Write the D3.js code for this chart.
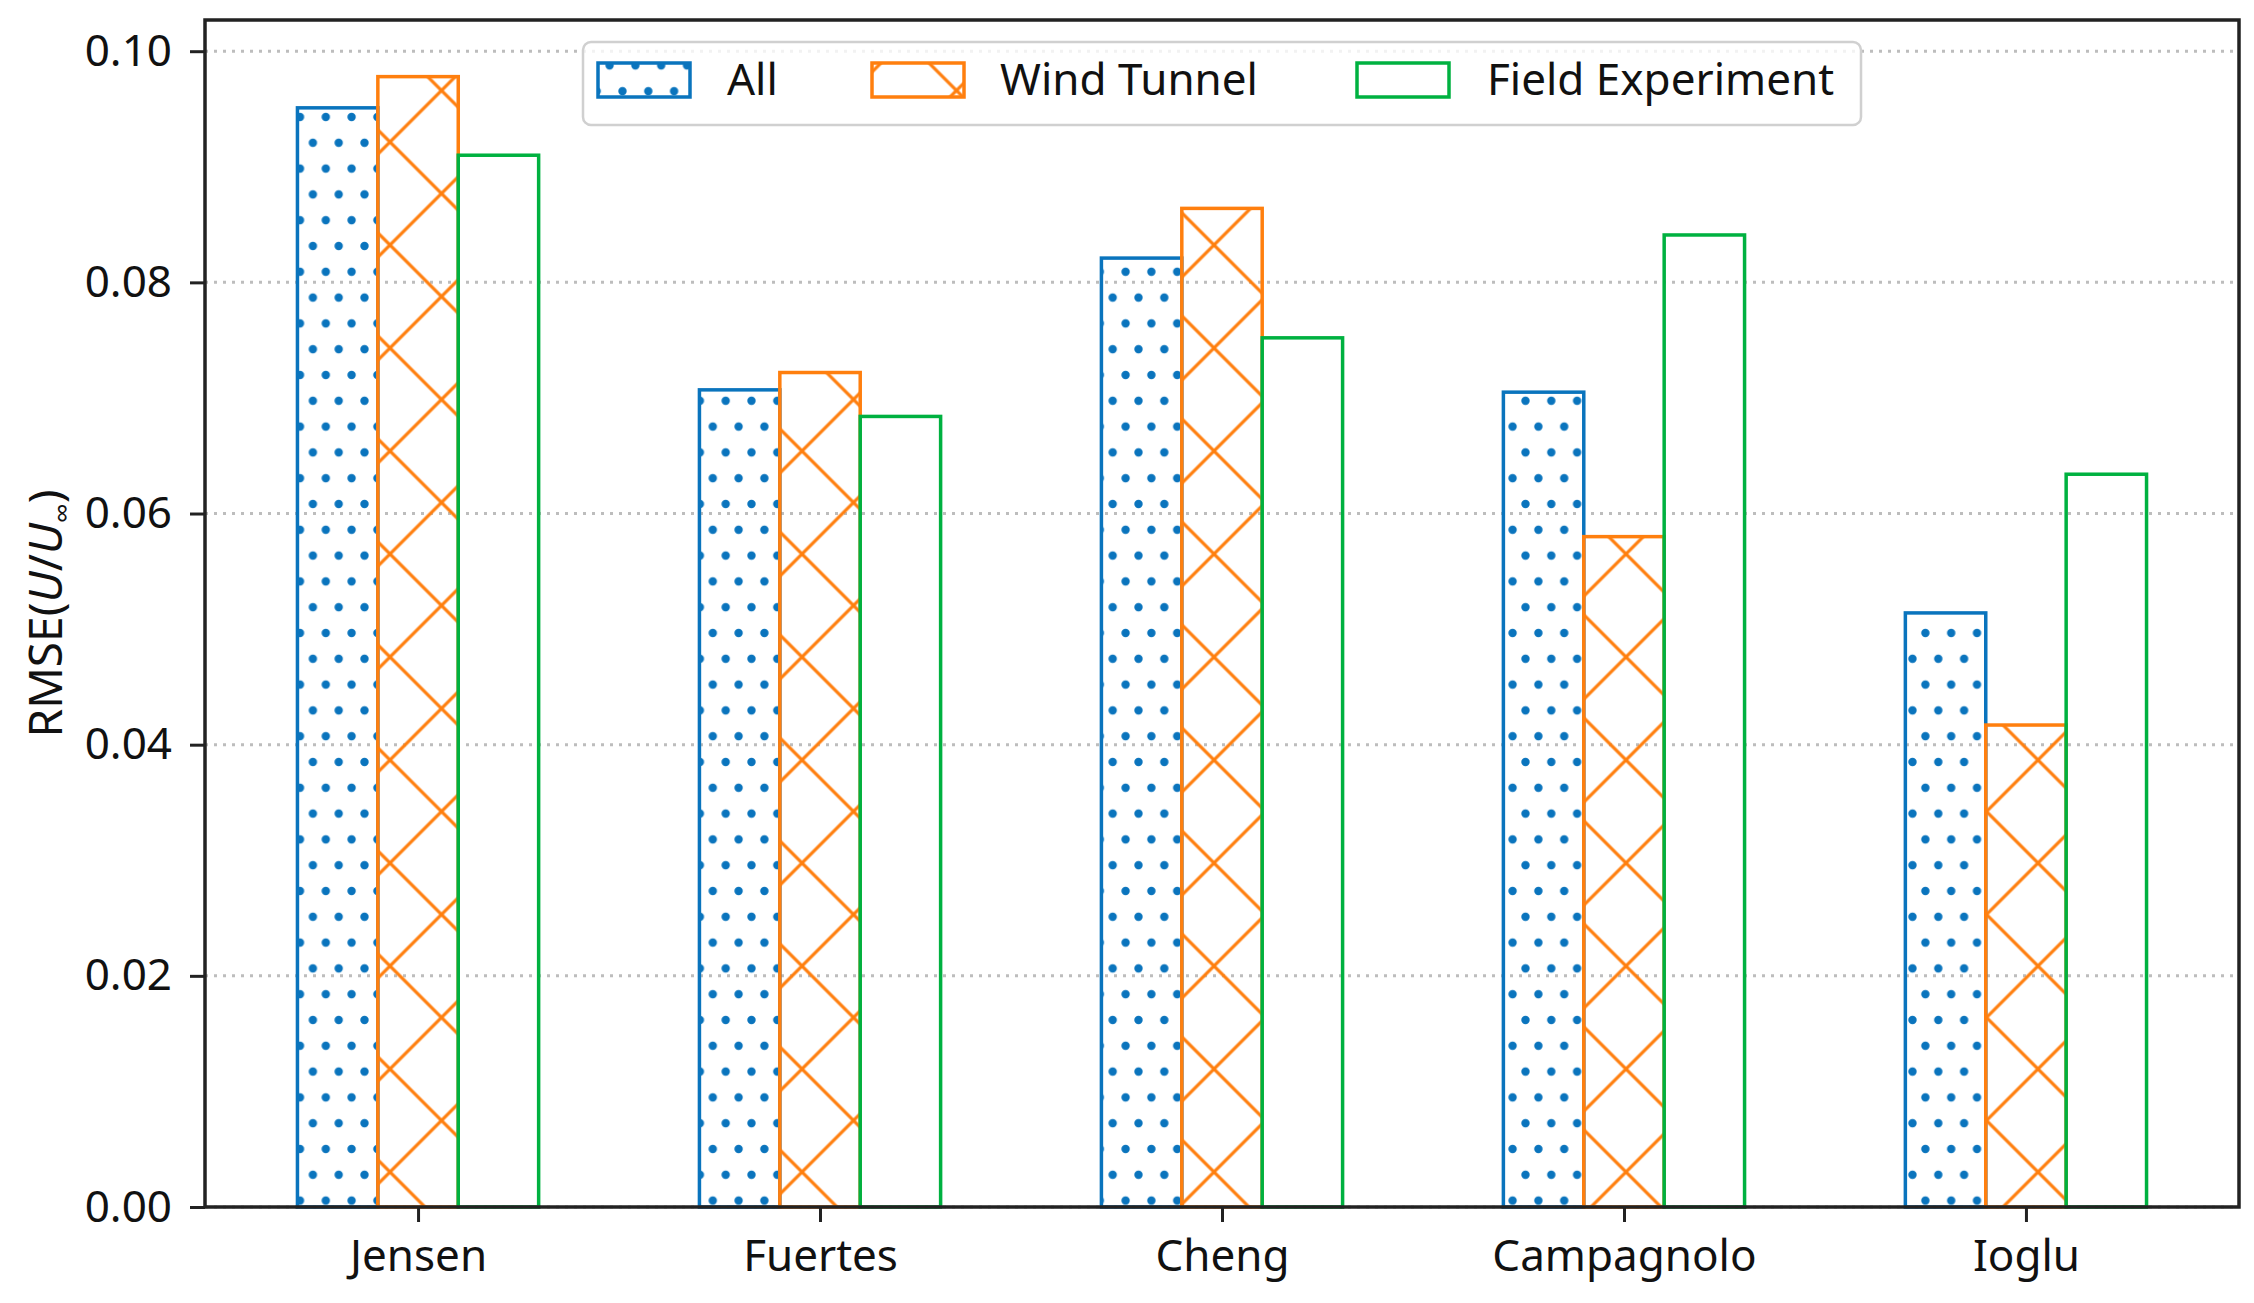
<!DOCTYPE html>
<html>
<head>
<meta charset="utf-8">
<script src="https://cdn.jsdelivr.net/npm/d3@7"></script>
<style>
  body { margin: 0; background: #fff; }
  svg text { font-family: "Noto Sans", "Open Sans", sans-serif; fill: #111; }
</style>
</head>
<body>
<div id="chart"></div>
<script>
// values
const categories = ["Jensen", "Fuertes", "Cheng", "Campagnolo", "Ioglu"];
const seriesNames = ["All", "Wind Tunnel", "Field Experiment"];
const allVals = [0.0951, 0.0707, 0.0821, 0.0705, 0.0514];
const windTunnelVals = [0.0978, 0.0722, 0.0864, 0.0580, 0.0417];
const fieldVals = [0.0910, 0.0684, 0.0752, 0.0841, 0.0634];
const yTicks = [0, 0.02, 0.04, 0.06, 0.08, 0.10];

const W = 2254, H = 1303;
const plotL = 205, plotR = 2239, plotT = 20, plotB = 1207;
const barW = 0.2;

const colors = {"All": "#0a74bd", "Wind Tunnel": "#ff7f0e", "Field Experiment": "#00b140"};
const fills = {"All": "url(#dots)", "Wind Tunnel": "url(#cross)", "Field Experiment": "none"};

let svg = d3.select("#chart").append("svg")
  .attr("width", W)
  .attr("height", H);

// hatch patterns, fixed to the page like matplotlib hatches
let defs = svg.append("defs");
let dp = defs.append("pattern")
  .attr("id", "dots")
  .attr("patternUnits", "userSpaceOnUse")
  .attr("x", 300 - 6.45).attr("y", 117 - 12.9)
  .attr("width", 25.8).attr("height", 51.6);
dp.append("circle").attr("cx", 6.45).attr("cy", 12.9).attr("r", 4.2).attr("fill", colors["All"]);
dp.append("circle").attr("cx", 19.35).attr("cy", 38.7).attr("r", 4.2).attr("fill", colors["All"]);

const P = 103;
let cp = defs.append("pattern")
  .attr("id", "cross")
  .attr("patternUnits", "userSpaceOnUse")
  .attr("x", 390 - P / 2).attr("y", 142 - P / 2)
  .attr("width", P).attr("height", P);
cp.append("path")
  .attr("d", `M-5,-5L${P + 5},${P + 5}M-5,${P + 5}L${P + 5},-5`)
  .attr("stroke", colors["Wind Tunnel"])
  .attr("stroke-width", 3.2)
  .attr("fill", "none");

let x = d3.scaleLinear().domain([-0.53, 4.53]).range([plotL, plotR]);
let y = d3.scaleLinear().domain([0, 0.1027]).range([plotB, plotT]);

// grid
svg.append("g").selectAll("line")
  .data(yTicks)
  .enter().append("line")
  .attr("x1", plotL).attr("x2", plotR)
  .attr("y1", function(d){ return y(d); })
  .attr("y2", function(d){ return y(d); })
  .attr("stroke", "#bdbdbd")
  .attr("stroke-width", 3)
  .attr("stroke-dasharray", "3,6");

// bars
let series = [
  {name: "All", vals: allVals, off: -barW},
  {name: "Wind Tunnel", vals: windTunnelVals, off: 0},
  {name: "Field Experiment", vals: fieldVals, off: barW}
];

series.forEach(function(s){
  svg.append("g").attr("class", "bars")
    .selectAll("rect")
    .data(s.vals)
    .enter().append("rect")
    .attr("x", function(d, i){ return x(i + s.off - barW / 2); })
    .attr("y", function(d){ return y(d); })
    .attr("width", function(){ return x(barW) - x(0); })
    .attr("height", function(d){ return y(0) - y(d); })
    .attr("fill", fills[s.name])
    .attr("stroke", colors[s.name])
    .attr("stroke-width", 3.5);
});

// axes
let yAxis = svg.append("g")
  .attr("transform", "translate(" + plotL + ",0)")
  .call(d3.axisLeft(y).tickValues(yTicks).tickFormat(d3.format(".2f")).tickSize(15).tickPadding(18));
yAxis.select(".domain").remove();
yAxis.selectAll("line").attr("stroke", "#222").attr("stroke-width", 3);
yAxis.selectAll("text").style("font-size", "44px");

let xAxis = svg.append("g")
  .attr("transform", "translate(0," + plotB + ")")
  .call(d3.axisBottom(x).tickValues(d3.range(categories.length))
    .tickFormat(function(i){ return categories[i]; }).tickSize(15).tickPadding(18));
xAxis.select(".domain").remove();
xAxis.selectAll("line").attr("stroke", "#222").attr("stroke-width", 3);
xAxis.selectAll("text").style("font-size", "44px");

// frame
svg.append("rect")
  .attr("x", plotL).attr("y", plotT)
  .attr("width", plotR - plotL).attr("height", plotB - plotT)
  .attr("fill", "none")
  .attr("stroke", "#222")
  .attr("stroke-width", 3.5);

// y label
let yl = svg.append("text")
  .attr("transform", "rotate(-90)")
  .attr("x", -(plotT + plotB) / 2)
  .attr("y", 62)
  .attr("text-anchor", "middle")
  .style("font-size", "46px");
yl.append("tspan").text("RMSE(");
yl.append("tspan").style("font-style", "italic").text("U");
yl.append("tspan").text("/");
yl.append("tspan").style("font-style", "italic").text("U");
yl.append("tspan").attr("dy", 10).style("font-size", "28px").text("∞");
yl.append("tspan").attr("dy", -10).text(")");

// legend
let legend = svg.append("g");
legend.append("rect")
  .attr("x", 583).attr("y", 42)
  .attr("width", 1278).attr("height", 83)
  .attr("rx", 8)
  .attr("fill", "#fff").attr("fill-opacity", 0.8)
  .attr("stroke", "#d0d0d0").attr("stroke-width", 2.5);

const legendX = [598, 872, 1357];
const legendTextX = [727, 1000, 1487];

seriesNames.forEach(function(n, i){
  legend.append("rect")
    .attr("x", legendX[i]).attr("y", 63)
    .attr("width", 92).attr("height", 34)
    .attr("fill", fills[n])
    .attr("stroke", colors[n])
    .attr("stroke-width", 3.5);
  legend.append("text")
    .attr("x", legendTextX[i]).attr("y", 95)
    .style("font-size", "44px")
    .text(n);
});
</script>
</body>
</html>
